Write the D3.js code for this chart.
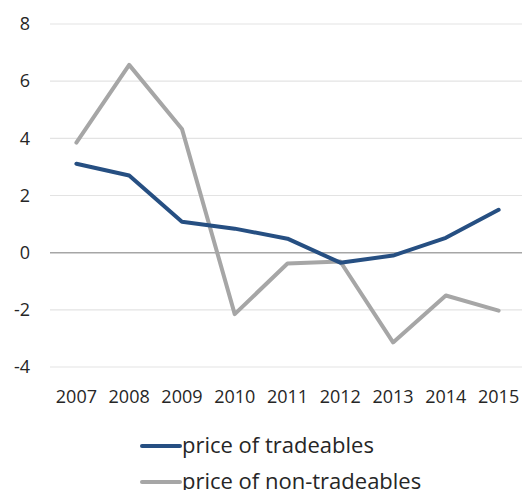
<!DOCTYPE html>
<html lang="en">
<head>
    <script src="https://cdn.jsdelivr.net/npm/d3@7/dist/d3.min.js"></script>
    <style>
        body { margin: 0; background: #fff; }
        text { font-family: "Open Sans", "Noto Sans", sans-serif; fill: #262626; }
    </style>
</head>
<body>
    <div id="chart"></div>
    <script>
        // data
        const years = ["2007", "2008", "2009", "2010", "2011", "2012", "2013", "2014", "2015"];
        const tradeables = [3.11, 2.7, 1.08, 0.84, 0.49, -0.35, -0.1, 0.52, 1.5];
        const nonTradeables = [3.85, 6.57, 4.33, -2.15, -0.38, -0.31, -3.14, -1.5, -2.03];
        const yTicks = [-4, -2, 0, 2, 4, 6, 8];
        const seriesNames = ["price of tradeables", "price of non-tradeables"];

        const width = 522, height = 490;
        const colors = ["#264f82", "#a6a6a6"];

        const svg = d3.select("#chart").append("svg")
            .attr("width", width)
            .attr("height", height);

        const x = d3.scaleBand().domain(years).range([50, 525]);
        const y = d3.scaleLinear().domain([-4, 8]).range([367, 24]);

        // gridlines
        svg.append("g")
            .selectAll("line")
            .data(yTicks)
            .join("line")
            .attr("x1", 50)
            .attr("x2", width)
            .attr("y1", d => y(d))
            .attr("y2", d => y(d))
            .attr("stroke", d => d === 0 ? "#a6a6a6" : "#e3e3e3")
            .attr("stroke-width", d => d === 0 ? 1.5 : 1.2);

        // y labels
        svg.append("g")
            .selectAll("text")
            .data(yTicks)
            .join("text")
            .attr("x", 30)
            .attr("y", d => y(d))
            .attr("dy", "0.35em")
            .attr("text-anchor", "end")
            .style("font-size", "18px")
            .text(d => d);

        // x labels
        svg.append("g")
            .selectAll("text")
            .data(years)
            .join("text")
            .attr("x", d => x(d) + x.bandwidth() / 2)
            .attr("y", 403)
            .attr("text-anchor", "middle")
            .style("font-size", "18px")
            .text(d => d);

        const line = d3.line()
            .x((d, i) => x(years[i]) + x.bandwidth() / 2)
            .y(d => y(d));

        // gray drawn first, blue on top
        [nonTradeables, tradeables].forEach((s, j) => {
            svg.append("path")
                .datum(s)
                .attr("d", line)
                .attr("fill", "none")
                .attr("stroke", colors[1 - j])
                .attr("stroke-width", 4)
                .attr("stroke-linejoin", "round")
                .attr("stroke-linecap", "round");
        });

        // legend (second row is cut at the bottom edge, as in the source)
        const legend = svg.append("g");
        seriesNames.forEach((name, i) => {
            const ly = 446 + i * 36;
            legend.append("line")
                .attr("x1", 142).attr("x2", 180)
                .attr("y1", ly).attr("y2", ly)
                .attr("stroke", colors[i])
                .attr("stroke-width", 4)
                .attr("stroke-linecap", "round");
            legend.append("text")
                .attr("x", 182)
                .attr("y", ly + 7)
                .style("font-size", "22px")
                .text(name);
        });
    </script>
</body>
</html>
